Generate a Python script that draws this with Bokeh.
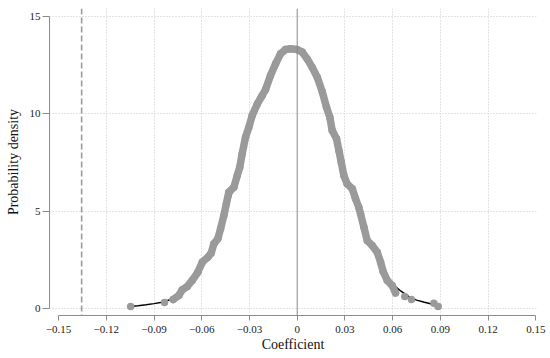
from bokeh.plotting import figure
from bokeh.models import Range1d, FixedTicker, Span, CustomJSTickFormatter
from bokeh.embed import file_html
from bokeh.resources import INLINE

# ---- data ----
x_ticks = [-0.15, -0.12, -0.09, -0.06, -0.03, 0.0, 0.03, 0.06, 0.09, 0.12, 0.15]
y_ticks = [0, 5, 10, 15]
x_grid_ticks = [-0.12, -0.09, -0.06, -0.03, 0.03, 0.06, 0.09, 0.12]

ref_value = -0.1355   # dashed reference line
zero_value = 0.0      # solid line at zero

# smooth density (black line)
dens_x = [-0.105, -0.100, -0.095, -0.090, -0.085, -0.080, -0.075, -0.070, -0.065,
          -0.060, -0.055, -0.050, -0.045, -0.040, -0.035, -0.030, -0.025, -0.020,
          -0.015, -0.010, -0.005, 0.000, 0.005, 0.010, 0.015, 0.020, 0.025, 0.030,
          0.035, 0.040, 0.045, 0.050, 0.055, 0.060, 0.065, 0.070, 0.075, 0.080,
          0.085, 0.089]
dens_y = [0.10, 0.14, 0.19, 0.25, 0.32, 0.45, 0.70, 1.05, 1.50, 2.15, 2.75, 3.55,
          4.95, 6.20, 7.80, 9.25, 10.50, 11.35, 12.30, 13.05, 13.32, 13.30, 12.95,
          12.35, 11.45, 9.95, 8.60, 6.90, 5.90, 4.85, 3.45, 2.85, 1.85, 1.25, 0.90,
          0.62, 0.43, 0.32, 0.22, 0.15]

# empirical density points (gray), dense central band
band_x = [-0.0780, -0.0744, -0.0723, -0.0691, -0.0660, -0.0625, -0.0597, -0.0562,
          -0.0541, -0.0524, -0.0499, -0.0482, -0.0461, -0.0445, -0.0430, -0.0398,
          -0.0377, -0.0361, -0.0346, -0.0325, -0.0304, -0.0283, -0.0251, -0.0220,
          -0.0199, -0.0168, -0.0136, -0.0105, -0.0074, -0.0042, 0.0000, 0.0031,
          0.0063, 0.0094, 0.0126, 0.0157, 0.0184, 0.0205, 0.0220, 0.0247, 0.0262,
          0.0277, 0.0293, 0.0314, 0.0346, 0.0366, 0.0387, 0.0398, 0.0419, 0.0440,
          0.0471, 0.0503, 0.0524, 0.0540, 0.0566, 0.0597, 0.0618]
band_y = [0.46, 0.67, 0.96, 1.13, 1.44, 1.86, 2.38, 2.63, 2.84, 3.32, 3.58, 4.09,
          4.78, 5.40, 5.97, 6.23, 6.83, 7.26, 7.95, 8.80, 9.31, 9.91, 10.51, 10.94,
          11.25, 11.97, 12.57, 13.08, 13.30, 13.34, 13.30, 13.17, 12.82, 12.39,
          11.88, 11.15, 10.34, 9.83, 9.14, 8.72, 8.11, 7.51, 6.83, 6.40, 6.15, 5.65,
          5.20, 4.86, 4.18, 3.49, 3.24, 2.89, 2.38, 1.90, 1.44, 1.18, 0.80]
# isolated tail points
tail_x = [-0.1047, -0.0834, 0.0676, 0.0718, 0.0859, 0.0886]
tail_y = [0.10, 0.31, 0.62, 0.46, 0.27, 0.10]

FONT = "Liberation Serif, Times New Roman, DejaVu Serif, serif"
GRAY = "#9a9a9a"

p = figure(frame_width=487, frame_height=307, output_backend="svg",
           toolbar_location=None,
           x_range=Range1d(-0.1557, 0.1504), y_range=Range1d(-0.36, 15.41),
           min_border_left=49, min_border_right=13, min_border_top=8,
           min_border_bottom=30)
p.outline_line_color = None
p.background_fill_color = "white"

# grids
p.xgrid.ticker = FixedTicker(ticks=x_grid_ticks)
p.ygrid.ticker = FixedTicker(ticks=y_ticks)
for g in (p.xgrid, p.ygrid):
    g.grid_line_color = "#c8c8c8"
    g.grid_line_dash = "1 2"
    g.grid_line_width = 1

# axes
p.xaxis.ticker = FixedTicker(ticks=x_ticks)
p.xaxis.formatter = CustomJSTickFormatter(code="""
    if (Math.abs(tick) < 1e-9) { return "0"; }
    return (tick < 0 ? "\u2212" : "") + Math.abs(tick).toFixed(2);
""")
p.yaxis.ticker = FixedTicker(ticks=y_ticks)
p.xaxis.bounds = (x_ticks[0], x_ticks[-1])
p.yaxis.bounds = (y_ticks[0], y_ticks[-1])
p.xaxis.axis_label = "Coefficient"
p.yaxis.axis_label = "Probability density"
for ax in (p.xaxis, p.yaxis):
    ax.axis_line_color = "#8c8c8c"
    ax.major_tick_line_color = "#8c8c8c"
    ax.minor_tick_line_color = None
    ax.major_tick_in = 0
    ax.major_label_text_font = FONT
    ax.major_label_text_font_size = "11px"
    ax.major_label_text_color = "#222222"
    ax.axis_label_text_font = FONT
    ax.axis_label_text_font_size = "14px"
    ax.axis_label_text_font_style = "normal"
    ax.axis_label_text_color = "#111111"
p.xaxis.major_tick_out = 5
p.xaxis.major_label_standoff = 5
p.xaxis.axis_label_standoff = 1
p.yaxis.major_tick_out = 7
p.yaxis.major_label_standoff = 2
p.yaxis.axis_label_standoff = 6
p.yaxis.major_label_orientation = "horizontal"

# reference lines
p.add_layout(Span(location=ref_value, dimension="height", line_color=GRAY,
                  line_width=1.6, line_dash="6 3"))
p.add_layout(Span(location=zero_value, dimension="height", line_color="#8a8a8a",
                  line_width=1))

# density line then points
p.line(dens_x, dens_y, line_color="black", line_width=1.5)
p.line(band_x, band_y, line_color=GRAY, line_width=7.5, line_join="round",
       line_cap="round")
p.scatter(band_x + tail_x, band_y + tail_y, size=7.5, fill_color=GRAY,
          line_color=None)

open("out.html", "w").write(file_html(p, INLINE))
